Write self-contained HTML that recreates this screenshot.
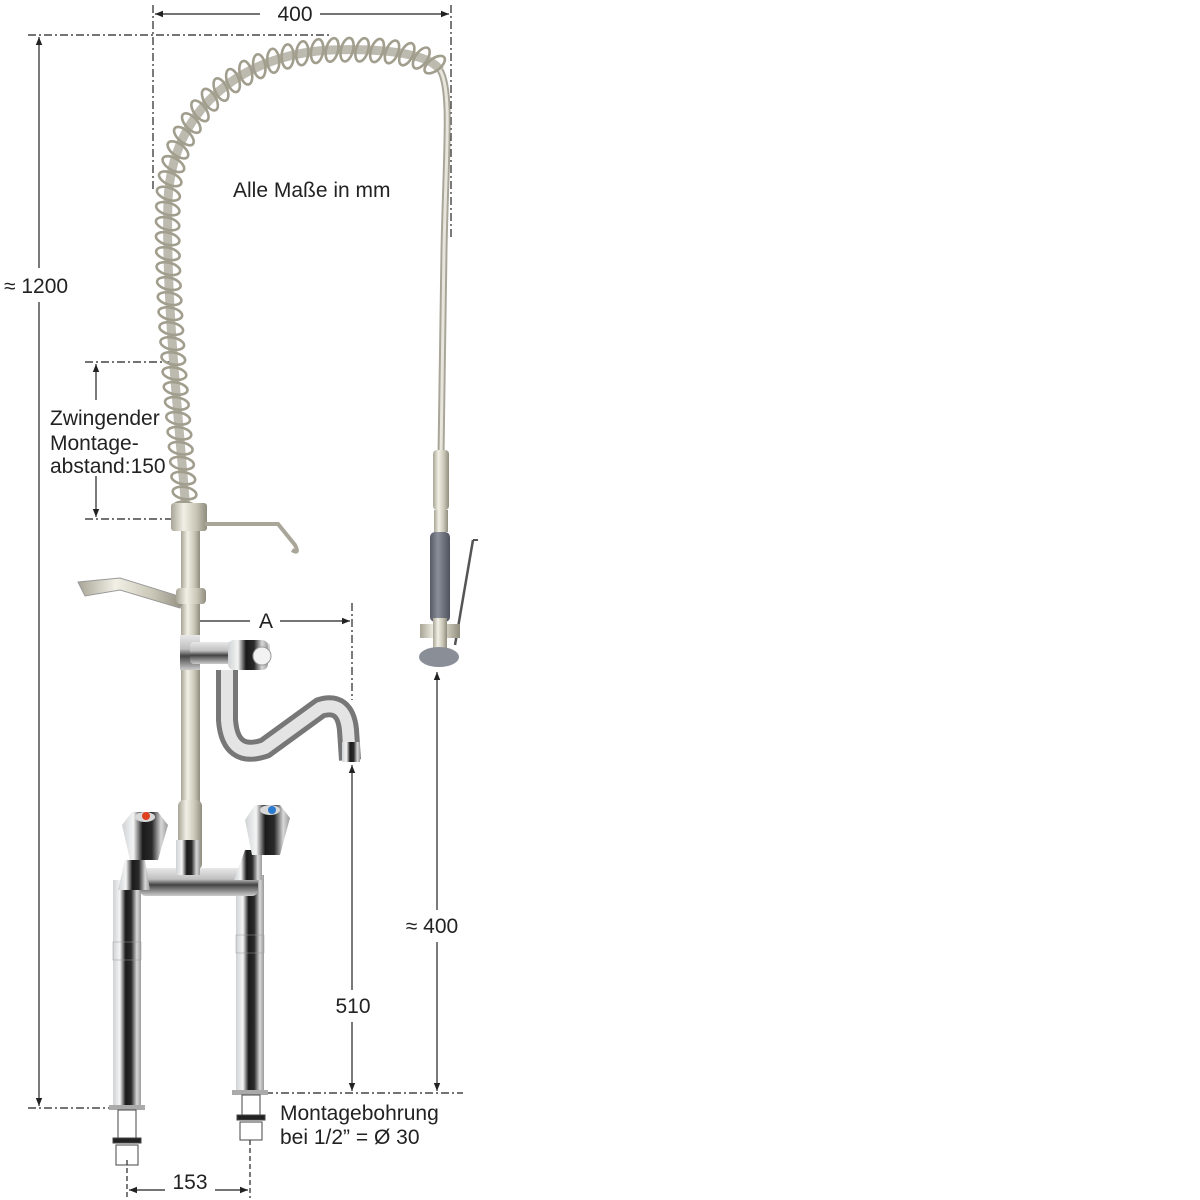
<!DOCTYPE html>
<html><head><meta charset="utf-8"><style>
html,body{margin:0;padding:0;background:#fff;}
svg{display:block;}
text{font-family:"Liberation Sans",sans-serif;fill:#222;}
</style></head><body>
<svg id="s" width="1200" height="1200" viewBox="0 0 1200 1200" xmlns="http://www.w3.org/2000/svg">
<defs>
<marker id="ar" viewBox="0 0 10 10" refX="10" refY="5" markerWidth="10" markerHeight="8" orient="auto-start-reverse" markerUnits="userSpaceOnUse"><path d="M0,1 L10,5 L0,9 z" fill="#222"/></marker>
<linearGradient id="chrome" x1="0" x2="1" y1="0" y2="0">
<stop offset="0" stop-color="#cfd2d4"/><stop offset="0.25" stop-color="#f4f4f4"/><stop offset="0.45" stop-color="#1a1a1a"/><stop offset="0.65" stop-color="#2a2a2a"/><stop offset="0.85" stop-color="#d8d8d8"/><stop offset="1" stop-color="#9a9a9a"/></linearGradient>
<linearGradient id="chromeH" x1="0" x2="0" y1="0" y2="1">
<stop offset="0" stop-color="#e8e8e8"/><stop offset="0.4" stop-color="#bfbfbf"/><stop offset="0.6" stop-color="#444"/><stop offset="1" stop-color="#ccc"/></linearGradient>
<linearGradient id="nickel" x1="0" x2="1" y1="0" y2="0">
<stop offset="0" stop-color="#a8a596"/><stop offset="0.35" stop-color="#f2f0e6"/><stop offset="0.7" stop-color="#c9c6b6"/><stop offset="1" stop-color="#8f8c7e"/></linearGradient>
<linearGradient id="grey" x1="0" x2="1" y1="0" y2="0">
<stop offset="0" stop-color="#555a66"/><stop offset="0.4" stop-color="#8a8f9a"/><stop offset="1" stop-color="#4e525c"/></linearGradient>
</defs>

<g stroke="#222" stroke-width="1.2" fill="none">
<line x1="153" y1="5" x2="153" y2="192" stroke-dasharray="8,3,2,3"/>
<line x1="451" y1="5" x2="451" y2="240" stroke-dasharray="8,3,2,3"/>
<line x1="155" y1="14" x2="260" y2="14" marker-start="url(#ar)"/>
<line x1="320" y1="14" x2="449" y2="14" marker-end="url(#ar)"/>
<line x1="28" y1="35" x2="330" y2="35" stroke-dasharray="8,3,2,3"/>
<line x1="39" y1="37" x2="39" y2="268" marker-start="url(#ar)"/>
<line x1="39" y1="302" x2="39" y2="1106" marker-end="url(#ar)"/>
<line x1="28" y1="1108" x2="145" y2="1108" stroke-dasharray="8,3,2,3"/>
<line x1="85" y1="362" x2="178" y2="362" stroke-dasharray="8,3,2,3"/>
<line x1="85" y1="519" x2="172" y2="519" stroke-dasharray="8,3,2,3"/>
<line x1="96" y1="364" x2="96" y2="400" marker-start="url(#ar)"/>
<line x1="96" y1="476" x2="96" y2="517" marker-end="url(#ar)"/>
<line x1="192" y1="621" x2="250" y2="621" marker-start="url(#ar)"/>
<line x1="280" y1="621" x2="350" y2="621" marker-end="url(#ar)"/>
<line x1="352" y1="603" x2="352" y2="700" stroke-dasharray="8,3,2,3"/>
<line x1="352" y1="765" x2="352" y2="990" marker-start="url(#ar)"/>
<line x1="352" y1="1022" x2="352" y2="1091" marker-end="url(#ar)"/>
<line x1="437" y1="672" x2="437" y2="910" marker-start="url(#ar)"/>
<line x1="437" y1="942" x2="437" y2="1091" marker-end="url(#ar)"/>
<line x1="265" y1="1093" x2="463" y2="1093" stroke-dasharray="8,3,2,3"/>
<line x1="127" y1="1160" x2="127" y2="1198" stroke-dasharray="5,3"/>
<line x1="250" y1="1140" x2="250" y2="1198" stroke-dasharray="5,3"/>
<line x1="129" y1="1190" x2="165" y2="1190" marker-start="url(#ar)"/>
<line x1="215" y1="1190" x2="248" y2="1190" marker-end="url(#ar)"/>
</g>

<!-- spring hose -->
<path id="hose" d="M186,512 C180,430 165,300 168,200 C172,110 240,55 330,50 C390,48 430,55 440,70" stroke="#bdbab0" stroke-width="9" fill="none"/>
<g id="coils" fill="none" stroke="#a19e8e" stroke-width="2.6"></g>
<path d="M440,70 C452,90 446,150 444,250 L441,455" stroke="#a9a699" stroke-width="7" fill="none"/>
<path d="M440,70 C452,90 446,150 444,250 L441,455" stroke="#e8e6dc" stroke-width="3" fill="none"/>

<rect x="433" y="450" width="16" height="60" rx="4" fill="url(#nickel)"/>
<rect x="434" y="510" width="14" height="22" fill="url(#nickel)"/>
<rect x="430" y="532" width="20" height="90" rx="5" fill="url(#grey)"/>
<line x1="473" y1="540" x2="455" y2="645" stroke="#555" stroke-width="2.5"/>
<line x1="473" y1="540" x2="478" y2="540" stroke="#555" stroke-width="2"/>
<rect x="420" y="624" width="40" height="14" fill="url(#nickel)"/>
<rect x="433" y="618" width="14" height="36" fill="url(#nickel)"/>
<ellipse cx="439" cy="657" rx="20" ry="10" fill="#8a8e96"/>

<rect x="181" y="510" width="19" height="300" fill="url(#nickel)"/>
<rect x="171" y="503" width="36" height="28" rx="3" fill="url(#nickel)"/>
<path d="M205,524 L278,524 L295,545 Q300,555 292,550" stroke="#a9a699" stroke-width="4" fill="none"/>
<path d="M78,582 L120,578 L185,598 L180,608 L120,590 L85,596 Z" fill="url(#nickel)" stroke="#999" stroke-width="1"/>
<rect x="176" y="588" width="30" height="16" rx="4" fill="url(#nickel)"/>
<rect x="178" y="800" width="24" height="70" rx="6" fill="url(#nickel)"/>

<rect x="180" y="635" width="20" height="35" fill="url(#chromeH)"/>
<rect x="190" y="642" width="80" height="22" rx="4" fill="url(#chromeH)"/>
<rect x="228" y="640" width="40" height="30" rx="6" fill="url(#chrome)"/>
<circle cx="262" cy="656" r="9" fill="#f2f2f2" stroke="#999"/>
<path d="M227,670 L227,720 Q230,760 265,748 L320,708 Q345,700 348,730 L350,760" stroke="#777" stroke-width="22" fill="none"/>
<path d="M227,670 L227,720 Q230,760 265,748 L320,708 Q345,700 348,730 L350,760" stroke="#e4e4e4" stroke-width="12" fill="none"/>
<rect x="342" y="742" width="18" height="20" fill="url(#chrome)"/>

<rect x="113" y="880" width="28" height="228" fill="url(#chrome)"/>
<rect x="236" y="875" width="28" height="218" fill="url(#chrome)"/>
<rect x="113" y="942" width="28" height="18" fill="url(#chrome)" stroke="#999" stroke-width="0.5"/>
<rect x="236" y="935" width="28" height="18" fill="url(#chrome)" stroke="#999" stroke-width="0.5"/>
<rect x="140" y="868" width="118" height="28" rx="6" fill="url(#chromeH)"/>
<rect x="176" y="840" width="24" height="35" fill="url(#chrome)"/>
<path d="M118,890 L125,860 L145,860 L150,890 Z" fill="url(#chrome)"/>
<path d="M234,880 L245,850 L262,850 L262,880 Z" fill="url(#chrome)"/>
<path d="M122,825 L132,812 L158,812 L168,825 L158,860 L130,860 Z" fill="url(#chrome)"/>
<ellipse cx="145" cy="817" rx="10" ry="5" fill="#d9d9d9"/><circle cx="146" cy="816" r="4" fill="#e04020"/>
<path d="M245,820 L255,805 L280,805 L290,818 L280,855 L252,855 Z" fill="url(#chrome)"/>
<ellipse cx="270" cy="810" rx="10" ry="5" fill="#d9d9d9"/><circle cx="272" cy="810" r="4" fill="#2a7ad0"/>
<rect x="109" y="1105" width="36" height="5" fill="#aaa"/>
<rect x="232" y="1090" width="36" height="5" fill="#aaa"/>
<g stroke="#444" fill="none" stroke-width="1">
<rect x="118" y="1110" width="18" height="28"/><rect x="113" y="1138" width="28" height="5" fill="#222"/><rect x="116" y="1145" width="22" height="20"/>
<rect x="242" y="1095" width="18" height="20"/><rect x="237" y="1115" width="28" height="5" fill="#222"/><rect x="240" y="1122" width="22" height="18"/>
</g>

<g font-size="21">
<text x="295" y="21" text-anchor="middle">400</text>
<text x="233" y="197">Alle Maße in mm</text>
<text x="4" y="293">≈ 1200</text>
<text x="50" y="425">Zwingender</text>
<text x="50" y="450">Montage-</text>
<text x="50" y="473">abstand:150</text>
<text x="266" y="628" text-anchor="middle">A</text>
<text x="432" y="933" text-anchor="middle">≈ 400</text>
<text x="353" y="1013" text-anchor="middle">510</text>
<text x="280" y="1120">Montagebohrung</text>
<text x="280" y="1144">bei 1/2” = Ø 30</text>
<text x="190" y="1189" text-anchor="middle">153</text>
</g>
</svg>
<script>
(function(){
var p=document.getElementById('hose'),g=document.getElementById('coils');
var L=p.getTotalLength(),ns='http://www.w3.org/2000/svg';
for(var s=4;s<L-2;s+=15){
var a=p.getPointAtLength(s),b=p.getPointAtLength(Math.min(L,s+1));
var ang=Math.atan2(b.y-a.y,b.x-a.x)*180/Math.PI;
var e=document.createElementNS(ns,'ellipse');
e.setAttribute('cx',a.x);e.setAttribute('cy',a.y);e.setAttribute('rx',6);e.setAttribute('ry',12);
e.setAttribute('transform','rotate('+(ang+15)+' '+a.x+' '+a.y+')');
g.appendChild(e);
}
})();
</script>
</body></html>
